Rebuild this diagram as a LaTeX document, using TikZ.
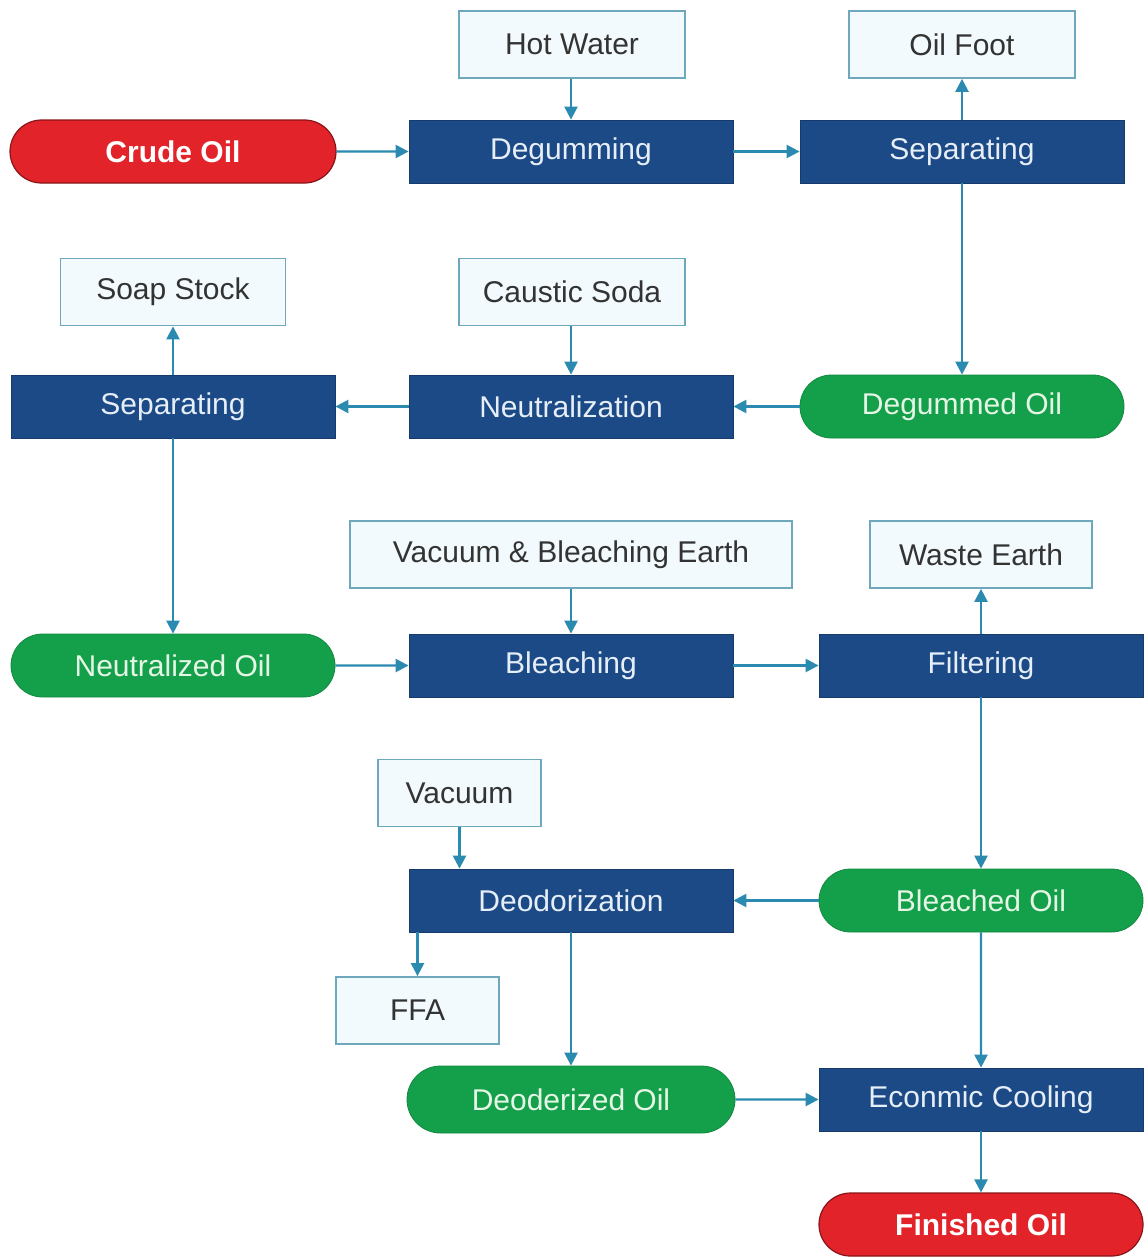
\documentclass[tikz,border=0pt]{standalone}
\usepackage{fontspec}
\setmainfont{Liberation Sans}
\usetikzlibrary{arrows.meta,shapes.misc}
\definecolor{dblue}{HTML}{1C4A86}
\definecolor{lgreen}{HTML}{14A04A}
\definecolor{cred}{HTML}{E2232A}
\definecolor{lfill}{HTML}{F3FAFD}
\definecolor{lborder}{HTML}{6FA8BC}
\definecolor{arr}{HTML}{2B8AB0}
\definecolor{ltext}{HTML}{E6EEF8}
\definecolor{gtext}{HTML}{E6F6E6}
\tikzset{
  base/.style={inner sep=0pt, font=\fontsize{30}{32}\selectfont, minimum height=63pt},
  proc/.style={base, rectangle, fill=dblue, draw=dblue!80!black, line width=0.8pt, text=ltext, minimum width=324pt},
  inp/.style={base, rectangle, fill=lfill, draw=lborder, line width=1.8pt, text=black!80, minimum height=67pt},
  oil/.style={base, rounded rectangle, fill=lgreen, draw=lgreen!85!black, line width=0.8pt, text=gtext, minimum width=324pt},
  endp/.style={base, rounded rectangle, fill=cred, draw=cred!60!black, line width=1.2pt, text=white, font=\fontsize{30}{32}\selectfont\bfseries, minimum width=326pt},
  flow/.style={draw=arr, line width=2.4pt, -{Triangle[length=13pt,width=13pt]}}
}
\begin{document}
\begin{tikzpicture}[x=1pt,y=-1pt]
\useasboundingbox (0,0) rectangle (1148,1258);
% inputs / outputs
\node[inp, minimum width=226pt] (hw) at (572,44.5) {Hot Water};
\node[inp, minimum width=226pt] (of) at (962,44.5) {Oil Foot};
\node[inp, minimum width=225pt] (ss) at (173,292) {Soap Stock};
\node[inp, minimum width=226pt] (cs) at (572,292) {Caustic Soda};
\node[inp, minimum width=442pt] (vbe) at (571,554.5) {Vacuum \& Bleaching Earth};
\node[inp, minimum width=222pt] (we) at (981,554.5) {Waste Earth};
\node[inp, minimum width=163pt] (vac) at (459.5,793) {Vacuum};
\node[inp, minimum width=163pt] (ffa) at (417.5,1010.5) {FFA};
% main
\node[endp] (crude) at (173,151.5) {Crude Oil};
\node[proc] (deg) at (571,151.5) {Degumming};
\node[proc] (sep1) at (962,151.5) {Separating};
\node[proc] (sep2) at (173,406.5) {Separating};
\node[proc] (neu) at (571,406.5) {Neutralization};
\node[oil] (dgo) at (962,406.5) {Degummed Oil};
\node[oil] (nto) at (173,665.5) {Neutralized Oil};
\node[proc] (ble) at (571,665.5) {Bleaching};
\node[proc] (fil) at (981,665.5) {Filtering};
\node[proc] (deo) at (571,900.5) {Deodorization};
\node[oil] (blo) at (981,900.5) {Bleached Oil};
\node[oil, minimum width=328pt, minimum height=67pt] (ddo) at (571,1099.5) {Deoderized Oil};
\node[proc] (eco) at (981,1099.5) {Econmic Cooling};
\node[endp, minimum width=324pt] (fin) at (981,1224.5) {Finished Oil};
% connectors
\draw[flow] (crude) -- (deg);
\draw[flow] (hw.south -| deg.north) -- (deg.north);
\draw[flow] (deg) -- (sep1);
\draw[flow] (sep1) -- (of);
\draw[flow] (sep1) -- (dgo);
\draw[flow] (dgo) -- (neu);
\draw[flow] (cs.south -| neu.north) -- (neu.north);
\draw[flow] (neu) -- (sep2);
\draw[flow] (sep2) -- (ss);
\draw[flow] (sep2) -- (nto);
\draw[flow] (nto) -- (ble);
\draw[flow] (vbe.south -| ble.north) -- (ble.north);
\draw[flow] (ble) -- (fil);
\draw[flow] (fil) -- (we);
\draw[flow] (fil) -- (blo);
\draw[flow] (blo) -- (deo);
\draw[flow] (vac.south) -- (vac.south |- deo.north);
\draw[flow] (deo.south -| ffa.north) -- (ffa.north);
\draw[flow] (deo) -- (ddo);
\draw[flow] (blo) -- (eco);
\draw[flow] (ddo) -- (eco);
\draw[flow] (eco) -- (fin);
\end{tikzpicture}
\end{document}
